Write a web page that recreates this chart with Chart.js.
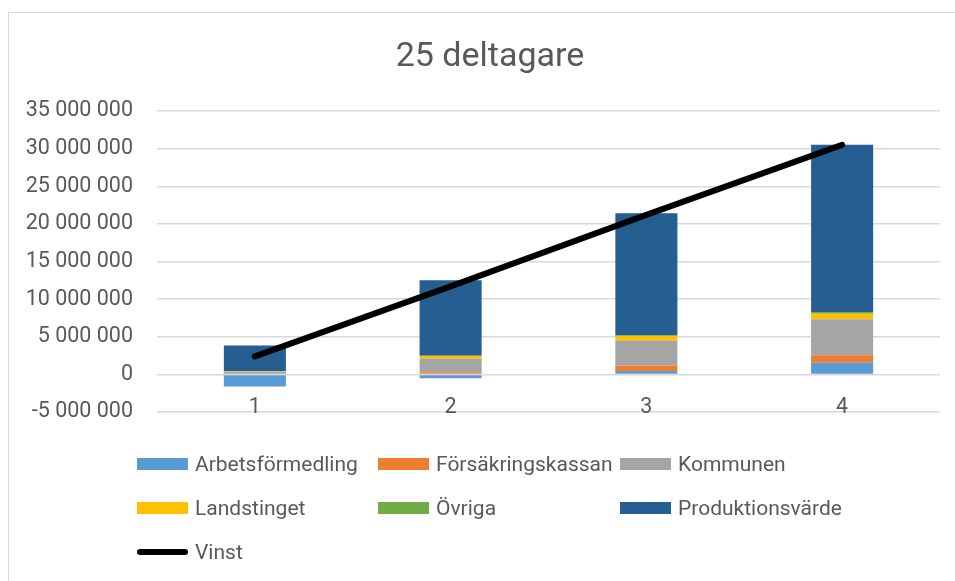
<!DOCTYPE html>
<html lang="sv">
<head>
    <meta charset="UTF-8">
    <title>25 deltagare</title>
    <script src="https://cdn.jsdelivr.net/npm/chart.js@4.4.1/dist/chart.umd.min.js"></script>
    <style>
        body { margin: 0; background: #fff; overflow: hidden; font-family: Roboto, sans-serif; }
        .frame { position: absolute; left: 8px; top: 12px; width: 1000px; height: 600px;
                 border-left: 1.5px solid #d9d9d9; border-top: 1.5px solid #d9d9d9; }
        #chart { position: absolute; left: 0; top: 0; }
        .legend { position: absolute; left: 137px; top: 448px; display: grid;
                  grid-template-columns: 241px 242px 240px; grid-auto-rows: 44px;
                  color: #595959; font-size: 21px; }
        .legend-item { display: flex; align-items: center; height: 32px; white-space: nowrap; }
        .swatch { width: 51px; height: 12px; margin-right: 7px; flex: none; }
        .swatch.line { height: 6px; border-radius: 3px; }
    </style>
</head>
<body>
    <div class="frame"></div>
    <canvas id="chart" width="955" height="449"></canvas>
    <div id="legend" class="legend"></div>

    <script>
        // data
        const categories = ['1', '2', '3', '4'];
        const arbetsformedling = [-1600000, -500000, 450000, 1550000];
        const forsakringskassan = [100000, 300000, 750000, 1000000];
        const kommunen = [250000, 1800000, 3300000, 4800000];
        const landstinget = [100000, 400000, 600000, 700000];
        const ovriga = [0, 0, 100000, 250000];
        const produktionsvarde = [3400000, 10000000, 16200000, 22200000];
        const vinst = [2400000, 11700000, 21200000, 30500000];
        const titleText = '25 deltagare';

        const textColor = '#595959';
        const gridColor = '#d9d9d9';

        function fmt(v) {
            return String(v).replace(/\B(?=(\d{3})+(?!\d))/g, ' ');
        }

        function bar(label, data, color) {
            return { type: 'bar', label: label, data: data, backgroundColor: color,
                     borderWidth: 0, stack: 'bars', order: 1,
                     categoryPercentage: 1, barPercentage: 0.317 };
        }

        // title + category labels (labels sit just above the bottom gridline, like the original)
        const extraText = {
            id: 'extraText',
            afterDraw(chart) {
                const ctx = chart.ctx;
                const x = chart.scales.x;
                const y = chart.scales.y;
                ctx.save();
                ctx.fillStyle = textColor;
                ctx.textAlign = 'center';

                ctx.font = '34px Roboto';
                ctx.textBaseline = 'middle';
                ctx.fillText(titleText, 490, 57);

                ctx.font = '21.5px Roboto';
                ctx.textBaseline = 'alphabetic';
                categories.forEach((c, i) => {
                    ctx.fillText(c, x.getPixelForTick(i), y.getPixelForValue(-5000000) + 1);
                });
                ctx.restore();
            }
        };

        const chart = new Chart(document.getElementById('chart'), {
            data: {
                labels: categories,
                datasets: [
                    bar('Arbetsförmedling', arbetsformedling, '#5B9BD5'),
                    bar('Försäkringskassan', forsakringskassan, '#ED7D31'),
                    bar('Kommunen', kommunen, '#A5A5A5'),
                    bar('Landstinget', landstinget, '#FFC000'),
                    bar('Övriga', ovriga, '#70AD47'),
                    bar('Produktionsvärde', produktionsvarde, '#255E91'),
                    {
                        type: 'line', label: 'Vinst', data: vinst, stack: 'line', order: 0,
                        borderColor: '#000', backgroundColor: '#000', borderWidth: 6,
                        borderCapStyle: 'round', pointRadius: 0, tension: 0
                    }
                ]
            },
            options: {
                responsive: false,
                animation: false,
                devicePixelRatio: 1,
                layout: { padding: { left: 0, right: 15, top: 111, bottom: 18.7 } },
                plugins: {
                    legend: { display: false },
                    tooltip: { enabled: false }
                },
                scales: {
                    x: {
                        display: false,
                        stacked: true
                    },
                    y: {
                        stacked: true,
                        min: -5000000,
                        max: 35000000,
                        afterFit(scale) { scale.width = 157; },
                        ticks: {
                            stepSize: 5000000,
                            padding: 24,
                            color: textColor,
                            font: { family: 'Roboto', size: 21.5 },
                            callback: v => fmt(v)
                        },
                        grid: { color: gridColor, lineWidth: 1.5, drawTicks: false },
                        border: { display: false }
                    }
                }
            },
            plugins: [extraText]
        });

        // legend in three fixed columns
        const legendEl = document.getElementById('legend');
        chart.data.datasets.forEach(ds => {
            const item = document.createElement('div');
            item.className = 'legend-item';
            const sw = document.createElement('span');
            sw.className = ds.type === 'line' ? 'swatch line' : 'swatch';
            sw.style.background = ds.type === 'line' ? ds.borderColor : ds.backgroundColor;
            const txt = document.createElement('span');
            txt.textContent = ds.label;
            item.appendChild(sw);
            item.appendChild(txt);
            legendEl.appendChild(item);
        });
    </script>
</body>
</html>
